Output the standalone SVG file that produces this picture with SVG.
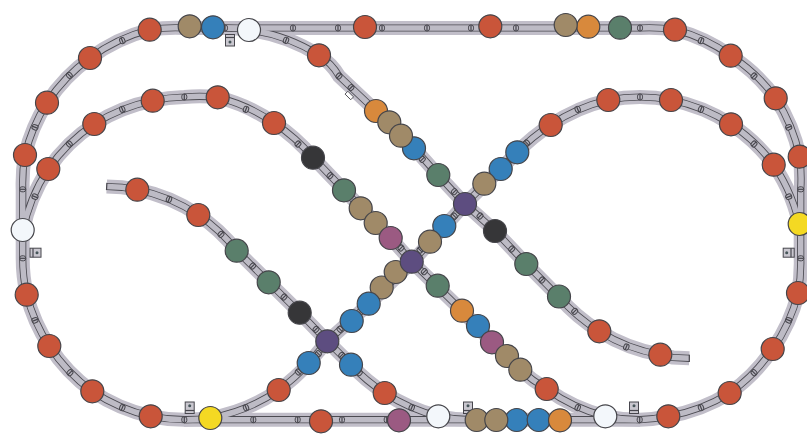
<svg xmlns="http://www.w3.org/2000/svg" width="807" height="437" viewBox="0 0 807 437">
<style>
.b{fill:none;stroke:#c1bec9;stroke-width:14}
.r{fill:none;stroke:#4c4b52;stroke-width:7.2}
.i{fill:none;stroke:#bdbbc5;stroke-width:5.5}
.e{fill:none;stroke:#47464d;stroke-width:1.2}
.t{fill:#b7b5bf;stroke:#47464d;stroke-width:1}
.bx{fill:#c9c7cf;stroke:#47464d;stroke-width:1}
.bw{fill:#fff;stroke:#47464d;stroke-width:.9}
.bd{fill:#47565a}
circle.n{stroke:#45454a;stroke-width:1.2}
.red{fill:#c9553a}.tan{fill:#a08a68}.blu{fill:#3580ba}.wht{fill:#f3f7fb}.org{fill:#d8893c}.grn{fill:#5a7f6b}.blk{fill:#363638}.pur{fill:#5d4d80}.mag{fill:#9b5a82}.yel{fill:#f4d923}
</style>
<defs>
<g id="t"><rect class="t" x="-2.5" y="-3" width="5" height="6" rx="2.2"/><path class="e" d="M0 -3V3"/></g>
<path id="p1" d="M149.7 29.7A170 170 0 0 1 185 28L640 28A170 170 0 0 1 675 29.7A170 170 0 0 1 730.7 55.7A170 170 0 0 1 775.7 98.3A170 170 0 0 1 799.7 156.7A170 170 0 0 1 800.7 190L800.7 258A170 170 0 0 1 798 293.7A170 170 0 0 1 772.7 349A170 170 0 0 1 729.7 393A170 170 0 0 1 668.3 416.3A170 170 0 0 1 640 419.7L185 419.7A170 170 0 0 1 150.7 416.3A170 170 0 0 1 92.3 391.3A170 170 0 0 1 49.3 346A170 170 0 0 1 26.7 294.7A170 170 0 0 1 22.7 258L22.7 190A170 170 0 0 1 25 155A170 170 0 0 1 47 102.7A170 170 0 0 1 90 58A170 170 0 0 1 149.7 29.7Z"/>
<path id="p2" d="M22.7 232A170 170 0 0 1 48.3 169A170 170 0 0 1 94.3 124A170 170 0 0 1 152.7 100.7A170 170 0 0 1 184.3 97A170 170 0 0 1 217.7 97.3A170 170 0 0 1 274 123A170 170 0 0 1 313 157.7L344 190L390.7 238L411.7 261.7L462 310.7L492 342.3L520.3 369.7A170 170 0 0 0 546.7 389A170 170 0 0 0 605.3 416.3A170 170 0 0 0 640 419.7"/>
<path id="p3" d="M225 28A170 170 0 0 1 249 30A170 170 0 0 1 319 55.3A60 60 0 0 1 339 76L376 111L414 148L438 175L465 204L495 231L526.3 264L559 297A170 170 0 0 0 599.3 331.3A170 170 0 0 0 660.3 354.7A170 170 0 0 0 673 357.5L689.3 358.3"/>
<path id="p4" d="M106.7 186.5L122 187.3L137.3 189.7A170 170 0 0 1 198.3 215A170 170 0 0 1 236.7 250.7L268.7 282.3L299.7 312.7L327.3 341.3L351 364.7A170 170 0 0 0 384.7 393A170 170 0 0 0 438.3 416.3A170 170 0 0 0 470 419.7"/>
<path id="p5" d="M800.7 232A170 170 0 0 0 773.7 164.7A170 170 0 0 0 731 124.3A170 170 0 0 0 671 100A170 170 0 0 0 640 97A170 170 0 0 0 608.3 100A170 170 0 0 0 550.7 125A170 170 0 0 0 517.3 152.3L465 204L412 262L369 304L327.3 341.3L308.7 363A170 170 0 0 1 278.7 390A170 170 0 0 1 210.3 418A170 170 0 0 1 184 419.7"/>
</defs>
<g id="connectors">
<use href="#p1" class="b"/><use href="#p2" class="b"/><use href="#p3" class="b"/><use href="#p4" class="b"/><use href="#p5" class="b"/>
<use href="#p1" class="r"/><use href="#p2" class="r"/><use href="#p3" class="r"/><use href="#p4" class="r"/><use href="#p5" class="r"/>
<use href="#p1" class="i"/><use href="#p2" class="i"/><use href="#p3" class="i"/><use href="#p4" class="i"/><use href="#p5" class="i"/>
<path class="e" d="M106.9 182.9L106.5 190.1M689.3 354.7V361.9"/>
<g id="ties">
<use href="#t" transform="translate(225 28)"/><use href="#t" transform="translate(293 28)"/><use href="#t" transform="translate(338 28)"/><use href="#t" transform="translate(382 28)"/><use href="#t" transform="translate(427 28)"/><use href="#t" transform="translate(471 28)"/><use href="#t" transform="translate(516 28)"/><use href="#t" transform="translate(640 28)"/>
<use href="#t" transform="translate(122.3 40.7) rotate(-22)"/><use href="#t" transform="translate(69.3 75.3) rotate(-45)"/><use href="#t" transform="translate(35 127.3) rotate(-68)"/><use href="#t" transform="translate(22.7 189.3) rotate(90)"/><use href="#t" transform="translate(22.7 258.3) rotate(90)"/><use href="#t" transform="translate(35 320.3) rotate(68)"/><use href="#t" transform="translate(70 372.7) rotate(45)"/><use href="#t" transform="translate(122.3 407.7) rotate(22)"/>
<use href="#t" transform="translate(184.3 419.7)"/><use href="#t" transform="translate(253.3 419.7)"/><use href="#t" transform="translate(297.7 419.7)"/><use href="#t" transform="translate(342 419.7)"/><use href="#t" transform="translate(386.7 419.7)"/><use href="#t" transform="translate(639.7 419.7)"/>
<use href="#t" transform="translate(701 40.7) rotate(22)"/><use href="#t" transform="translate(754 76) rotate(45)"/><use href="#t" transform="translate(788.7 127.3) rotate(68)"/><use href="#t" transform="translate(800.7 189.3) rotate(90)"/><use href="#t" transform="translate(800.7 258.3) rotate(90)"/><use href="#t" transform="translate(788.7 320.3) rotate(-68)"/><use href="#t" transform="translate(754 372.7) rotate(-45)"/><use href="#t" transform="translate(701 407.7) rotate(-22)"/>
<use href="#t" transform="translate(122.3 109.3) rotate(-22)"/><use href="#t" transform="translate(69.3 144) rotate(-45)"/><use href="#t" transform="translate(35 196.7) rotate(-68)"/><use href="#t" transform="translate(184.3 97)"/><use href="#t" transform="translate(246 109.3) rotate(22)"/><use href="#t" transform="translate(577.7 109.3) rotate(-22)"/><use href="#t" transform="translate(640 97)"/><use href="#t" transform="translate(701 109.3) rotate(22)"/><use href="#t" transform="translate(754 144) rotate(45)"/><use href="#t" transform="translate(788.7 196.7) rotate(68)"/>
<use href="#t" transform="translate(286 40.3) rotate(22)"/><use href="#t" transform="translate(339 76) rotate(45)"/><use href="#t" transform="translate(351 87.6) rotate(45)"/><use href="#t" transform="translate(298 144) rotate(45)"/><use href="#t" transform="translate(330 175.7) rotate(45)"/><use href="#t" transform="translate(422.3 159.3) rotate(45)"/><use href="#t" transform="translate(454.3 191.7) rotate(45)"/><use href="#t" transform="translate(480 216) rotate(45)"/><use href="#t" transform="translate(454.3 216) rotate(-45)"/><use href="#t" transform="translate(420 250) rotate(-45)"/><use href="#t" transform="translate(401 248) rotate(45)"/><use href="#t" transform="translate(424.3 271.7) rotate(45)"/><use href="#t" transform="translate(511.7 249) rotate(45)"/><use href="#t" transform="translate(526.7 143) rotate(-45)"/><use href="#t" transform="translate(542 280) rotate(45)"/><use href="#t" transform="translate(574.7 311.3) rotate(45)"/><use href="#t" transform="translate(626.3 347) rotate(22)"/><use href="#t" transform="translate(577.7 407.7) rotate(22)"/><use href="#t" transform="translate(284 297) rotate(45)"/><use href="#t" transform="translate(316 329.3) rotate(45)"/><use href="#t" transform="translate(340 329.3) rotate(-45)"/><use href="#t" transform="translate(318.3 353.7) rotate(-45)"/><use href="#t" transform="translate(341.7 355.3) rotate(45)"/><use href="#t" transform="translate(298.3 372) rotate(-45)"/><use href="#t" transform="translate(359.3 372.7) rotate(45)"/><use href="#t" transform="translate(411.7 407.7) rotate(22)"/><use href="#t" transform="translate(246 407.7) rotate(-22)"/><use href="#t" transform="translate(169 199.3) rotate(22)"/><use href="#t" transform="translate(221 234.3) rotate(45)"/><use href="#t" transform="translate(252.7 266) rotate(45)"/>
</g>
</g>
<g id="signals">
<g id="box1"><rect class="bx" x="225.5" y="34.5" width="9" height="11.5"/><path class="e" d="M225.5 37.5H234.5"/><circle class="bd" cx="230" cy="42" r="1.5"/></g>
<g id="box2"><rect class="bx" x="30" y="248.2" width="11" height="9"/><path class="e" d="M33 248.2V257.2"/><circle class="bd" cx="37" cy="252.7" r="1.5"/></g>
<g id="box3"><rect class="bx" x="783.2" y="248.2" width="11" height="9"/><path class="e" d="M791 248.2V257.2"/><circle class="bd" cx="786.7" cy="252.7" r="1.5"/></g>
<g id="box4"><rect class="bx" x="185.2" y="402" width="9" height="11.5"/><path class="e" d="M185.2 410.5H194.2"/><circle class="bd" cx="189.7" cy="405.7" r="1.5"/></g>
<g id="box5"><rect class="bx" x="463.5" y="402" width="9" height="11.5"/><path class="e" d="M463.5 410.5H472.5"/><circle class="bd" cx="468" cy="405.7" r="1.5"/></g>
<g id="box6"><rect class="bx" x="629.5" y="402" width="9" height="11.5"/><path class="e" d="M629.5 410.5H638.5"/><circle class="bd" cx="634" cy="405.7" r="1.5"/></g>
<g id="box7"><rect class="bw" x="345.3" y="93.5" width="8" height="4" transform="rotate(45 349.3 95.5)"/></g>
</g>
<g id="n1"><circle class="n red" cx="149.7" cy="29.7" r="11.5"/></g>
<g id="n2"><circle class="n red" cx="90" cy="58" r="11.5"/></g>
<g id="n3"><circle class="n red" cx="47" cy="102.7" r="11.5"/></g>
<g id="n4"><circle class="n red" cx="25" cy="155" r="11.5"/></g>
<g id="n5"><circle class="n wht" cx="22.7" cy="230" r="11.5"/></g>
<g id="n6"><circle class="n red" cx="26.7" cy="294.7" r="11.5"/></g>
<g id="n7"><circle class="n red" cx="49.3" cy="346" r="11.5"/></g>
<g id="n8"><circle class="n red" cx="92.3" cy="391.3" r="11.5"/></g>
<g id="n9"><circle class="n red" cx="150.7" cy="416.3" r="11.5"/></g>
<g id="n10"><circle class="n yel" cx="210.3" cy="418" r="11.5"/></g>
<g id="n11"><circle class="n red" cx="48.3" cy="169" r="11.5"/></g>
<g id="n12"><circle class="n red" cx="94.3" cy="124" r="11.5"/></g>
<g id="n13"><circle class="n red" cx="152.7" cy="100.7" r="11.5"/></g>
<g id="n14"><circle class="n red" cx="217.7" cy="97.3" r="11.5"/></g>
<g id="n15"><circle class="n red" cx="274" cy="123" r="11.5"/></g>
<g id="n16"><circle class="n tan" cx="189.7" cy="26.3" r="11.5"/></g>
<g id="n17"><circle class="n blu" cx="213" cy="27.3" r="11.5"/></g>
<g id="n18"><circle class="n wht" cx="249" cy="30" r="11.5"/></g>
<g id="n19"><circle class="n red" cx="365" cy="27" r="11.5"/></g>
<g id="n20"><circle class="n red" cx="490.3" cy="26.3" r="11.5"/></g>
<g id="n21"><circle class="n red" cx="319" cy="55.3" r="11.5"/></g>
<g id="n22"><circle class="n org" cx="376" cy="111" r="11.5"/></g>
<g id="n23"><circle class="n blu" cx="414" cy="148.3" r="11.5"/></g>
<g id="n24"><circle class="n tan" cx="389.3" cy="122.3" r="11.5"/></g>
<g id="n25"><circle class="n tan" cx="401" cy="135.7" r="11.5"/></g>
<g id="n26"><circle class="n org" cx="588.3" cy="26.7" r="11.5"/></g>
<g id="n27"><circle class="n tan" cx="565.7" cy="25" r="11.5"/></g>
<g id="n28"><circle class="n grn" cx="620" cy="27.7" r="11.5"/></g>
<g id="n29"><circle class="n red" cx="675" cy="29.7" r="11.5"/></g>
<g id="n30"><circle class="n red" cx="730.7" cy="55.7" r="11.5"/></g>
<g id="n31"><circle class="n red" cx="775.7" cy="98.3" r="11.5"/></g>
<g id="n32"><circle class="n red" cx="608.3" cy="100" r="11.5"/></g>
<g id="n33"><circle class="n red" cx="671" cy="100" r="11.5"/></g>
<g id="n34"><circle class="n red" cx="731" cy="124.3" r="11.5"/></g>
<g id="n35"><circle class="n red" cx="550.7" cy="125" r="11.5"/></g>
<g id="n36"><circle class="n blk" cx="313" cy="157.7" r="11.5"/></g>
<g id="n37"><circle class="n grn" cx="344" cy="190.3" r="11.5"/></g>
<g id="n38"><circle class="n tan" cx="360.7" cy="208.3" r="11.5"/></g>
<g id="n39"><circle class="n tan" cx="375.7" cy="223" r="11.5"/></g>
<g id="n40"><circle class="n mag" cx="390.7" cy="238" r="11.5"/></g>
<g id="n41"><circle class="n tan" cx="381.7" cy="287.5" r="11.5"/></g>
<g id="n42"><circle class="n tan" cx="395.7" cy="272" r="11.5"/></g>
<g id="n43"><circle class="n pur" cx="411.7" cy="261.7" r="11.5"/></g>
<g id="n44"><circle class="n grn" cx="437.7" cy="285.7" r="11.5"/></g>
<g id="n45"><circle class="n blu" cx="444.3" cy="226" r="11.5"/></g>
<g id="n46"><circle class="n tan" cx="430" cy="241.7" r="11.5"/></g>
<g id="n47"><circle class="n pur" cx="465" cy="204" r="11.5"/></g>
<g id="n48"><circle class="n blu" cx="517.3" cy="152.3" r="11.5"/></g>
<g id="n49"><circle class="n blu" cx="500.7" cy="169" r="11.5"/></g>
<g id="n50"><circle class="n tan" cx="484.3" cy="183.7" r="11.5"/></g>
<g id="n51"><circle class="n grn" cx="438.3" cy="175" r="11.5"/></g>
<g id="n52"><circle class="n blk" cx="495" cy="231" r="11.5"/></g>
<g id="n53"><circle class="n grn" cx="526.3" cy="264" r="11.5"/></g>
<g id="n54"><circle class="n red" cx="773.7" cy="164.7" r="11.5"/></g>
<g id="n55"><circle class="n red" cx="799.7" cy="156.7" r="11.5"/></g>
<g id="n56"><circle class="n yel" cx="799.7" cy="224" r="11.5"/></g>
<g id="n57"><circle class="n red" cx="798" cy="293" r="11.5"/></g>
<g id="n58"><circle class="n grn" cx="559" cy="296.5" r="11.5"/></g>
<g id="n59"><circle class="n red" cx="137.3" cy="189.7" r="11.5"/></g>
<g id="n60"><circle class="n red" cx="198.3" cy="215" r="11.5"/></g>
<g id="n61"><circle class="n grn" cx="236.7" cy="250.7" r="11.5"/></g>
<g id="n62"><circle class="n grn" cx="268.7" cy="282.3" r="11.5"/></g>
<g id="n63"><circle class="n blk" cx="299.7" cy="312.7" r="11.5"/></g>
<g id="n64"><circle class="n blu" cx="368.7" cy="303.7" r="11.5"/></g>
<g id="n65"><circle class="n blu" cx="351.7" cy="321" r="11.5"/></g>
<g id="n66"><circle class="n pur" cx="327.3" cy="341.3" r="11.5"/></g>
<g id="n67"><circle class="n blu" cx="308.7" cy="363" r="11.5"/></g>
<g id="n68"><circle class="n blu" cx="351" cy="364.7" r="11.5"/></g>
<g id="n69"><circle class="n red" cx="278.7" cy="390" r="11.5"/></g>
<g id="n70"><circle class="n red" cx="384.7" cy="393" r="11.5"/></g>
<g id="n71"><circle class="n wht" cx="438.3" cy="416.3" r="11.5"/></g>
<g id="n72"><circle class="n red" cx="321" cy="421.3" r="11.5"/></g>
<g id="n73"><circle class="n mag" cx="399" cy="420.3" r="11.5"/></g>
<g id="n74"><circle class="n org" cx="462" cy="310.7" r="11.5"/></g>
<g id="n75"><circle class="n blu" cx="478" cy="326" r="11.5"/></g>
<g id="n76"><circle class="n mag" cx="492" cy="342.3" r="11.5"/></g>
<g id="n77"><circle class="n tan" cx="507" cy="356" r="11.5"/></g>
<g id="n78"><circle class="n tan" cx="520.3" cy="369.7" r="11.5"/></g>
<g id="n79"><circle class="n red" cx="546.7" cy="389" r="11.5"/></g>
<g id="n80"><circle class="n red" cx="599.3" cy="331.3" r="11.5"/></g>
<g id="n81"><circle class="n red" cx="660.3" cy="354.7" r="11.5"/></g>
<g id="n82"><circle class="n blu" cx="516.7" cy="420" r="11.5"/></g>
<g id="n83"><circle class="n tan" cx="476.7" cy="420" r="11.5"/></g>
<g id="n84"><circle class="n tan" cx="496.3" cy="420" r="11.5"/></g>
<g id="n85"><circle class="n blu" cx="538.7" cy="420" r="11.5"/></g>
<g id="n86"><circle class="n org" cx="560" cy="420.3" r="11.5"/></g>
<g id="n87"><circle class="n wht" cx="605.3" cy="416.3" r="11.5"/></g>
<g id="n88"><circle class="n red" cx="668.3" cy="416.3" r="11.5"/></g>
<g id="n89"><circle class="n red" cx="729.7" cy="393" r="11.5"/></g>
<g id="n90"><circle class="n red" cx="772.7" cy="349" r="11.5"/></g>
</svg>
